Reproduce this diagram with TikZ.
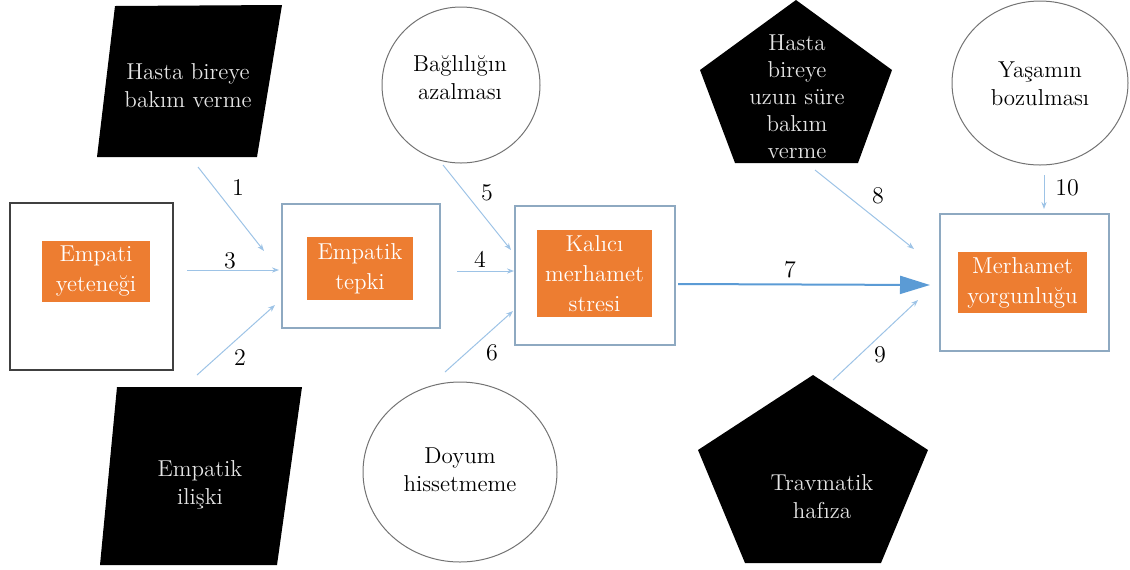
\documentclass[tikz,border=0pt]{standalone}
\usetikzlibrary{arrows.meta,shapes.geometric}
\definecolor{orng}{HTML}{ED7D31}
\definecolor{lnblue}{HTML}{9DC3E6}
\definecolor{arblue}{HTML}{5B9BD5}
\definecolor{frameblue}{HTML}{8EA9C1}

\begin{document}
\begin{tikzpicture}[x=0.5pt,y=-0.5pt,>=Stealth,font=\fontsize{11.5}{14}\selectfont,
  blk/.style={fill=black},
  txtw/.style={align=center,text=white!90!black,inner sep=0pt},
  core/.style={fill=orng,align=center,text=white,inner sep=0pt,font=\fontsize{11.5}{15}\selectfont},
  outer/.style={draw=frameblue,line width=0.6pt,inner sep=0pt},
  oval/.style={draw=black!55,line width=0.5pt,ellipse,inner sep=0pt},
  ovtxt/.style={align=center,inner sep=0pt},
  lnk/.style={draw=lnblue,line width=0.5pt,-{Stealth[length=3.5pt,width=2.6pt]}},
  num/.style={inner sep=0pt,font=\fontsize{12}{14}\selectfont}]
  \useasboundingbox (0,0) rectangle (1130,569);

  % boxes
  \node[outer,draw=black!75,minimum width=81.5pt,minimum height=83.5pt] (bempati) at (91.5,286.5) {};
  \node[core,minimum width=54pt,minimum height=30.5pt] (empati) at (96,271.5) {Empati\\yeteneği};
  \node[outer,minimum width=79pt,minimum height=62pt] (btepki) at (361,266) {};
  \node[core,minimum width=53pt,minimum height=31.5pt] (tepki) at (360,268.5) {Empatik\\tepki};
  \node[outer,minimum width=80pt,minimum height=69.5pt] (bstres) at (595,275.5) {};
  \node[core,minimum width=57.5pt,minimum height=43.5pt] (stres) at (594.5,273.5) {Kalıcı\\merhamet\\stresi};
  \node[outer,minimum width=84.5pt,minimum height=68.5pt] (byorg) at (1024.5,282.5) {};
  \node[core,minimum width=64.5pt,minimum height=30.5pt] (yorg) at (1022.5,282.5) {Merhamet\\yorgunluğu};

  % black shapes
  \fill[blk] (115,6) -- (282,5) -- (257,157) -- (97,157) -- cycle;
  \node[txtw] (bakim) at (188,86) {Hasta bireye\\bakım verme};
  \fill[blk] (117,387) -- (302,387) -- (277,565) -- (100,565) -- cycle;
  \node[txtw] (iliski) at (200,485) {Empatik\\ilişki};
  \fill[blk] (796,0) -- (892,70) -- (858,163) -- (735,163) -- (700,70) -- cycle;
  \node[txtw,font=\fontsize{11.5}{13.5}\selectfont] (uzun) at (797,97) {Hasta\\bireye\\uzun süre\\bakım\\verme};
  \fill[blk] (813,375) -- (928,450) -- (881,563) -- (745,563) -- (698,450) -- cycle;
  \node[txtw] (travma) at (822,497) {Travmatik\\hafıza};

  % ovals
  \node[oval,minimum width=79pt,minimum height=78pt] (bagli) at (461,85) {};
  \node[ovtxt] (baglitxt) at (460,78) {Bağlılığın\\azalması};
  \node[oval,minimum width=97pt,minimum height=90pt] (doyum) at (460,472) {};
  \node[ovtxt] (doyumtxt) at (460,470) {Doyum\\hissetmeme};
  \node[oval,minimum width=88pt,minimum height=82pt] (yasam) at (1040,83) {};
  \node[ovtxt] (yasamtxt) at (1040,84) {Yaşamın\\bozulması};

  % links
  \coordinate (a1s) at (198,167); \coordinate (a1e) at (264,251);
  \coordinate (a2s) at (197,375); \coordinate (a2e) at (275,305);
  \coordinate (a3s) at (187,270); \coordinate (a3e) at (279,270);
  \coordinate (a4s) at (457,271); \coordinate (a4e) at (514,271);
  \coordinate (a5s) at (443,165); \coordinate (a5e) at (511,250);
  \coordinate (a6s) at (445,372); \coordinate (a6e) at (513,311);
  \coordinate (a7s) at (678,284); \coordinate (a7e) at (930,285);
  \coordinate (a8s) at (815,170); \coordinate (a8e) at (914,249);
  \coordinate (a9s) at (833,380); \coordinate (a9e) at (918,300);
  \coordinate (a10s) at (1044,175); \coordinate (a10e) at (1044,209);

  \draw[lnk] (a1s) -- (a1e);
  \draw[lnk] (a2s) -- (a2e);
  \draw[lnk] (a3s) -- (a3e);
  \draw[lnk] (a4s) -- (a4e);
  \draw[lnk] (a5s) -- (a5e);
  \draw[lnk] (a6s) -- (a6e);
  \draw[arblue,line width=1pt,-{Triangle[length=15pt,width=9pt]}] (a7s) -- (a7e);
  \draw[lnk] (a8s) -- (a8e);
  \draw[lnk] (a9s) -- (a9e);
  \draw[lnk] (a10s) -- (a10e);

  \node[num] (n1) at (238,188) {1};
  \node[num] (n2) at (240,358) {2};
  \node[num] (n3) at (230,261) {3};
  \node[num] (n4) at (480,259) {4};
  \node[num] (n5) at (487,193) {5};
  \node[num] (n6) at (492,353) {6};
  \node[num] (n7) at (790,270) {7};
  \node[num] (n8) at (878,196) {8};
  \node[num] (n9) at (880,355) {9};
  \node[num] (n10) at (1067,188) {10};
\end{tikzpicture}
\end{document}
